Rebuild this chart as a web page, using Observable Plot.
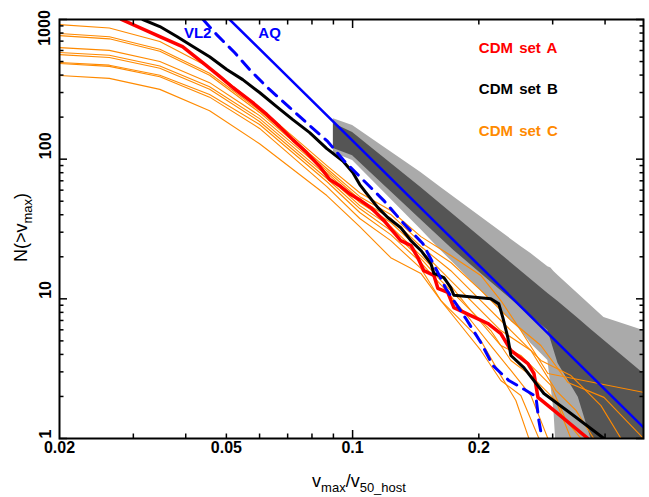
<!DOCTYPE html>
<html><head><meta charset="utf-8">
<script src="https://cdn.jsdelivr.net/npm/d3@7"></script>
<script src="https://cdn.jsdelivr.net/npm/@observablehq/plot@0.6"></script>
<style>
html,body{margin:0;padding:0;background:#fff;}
</style>
</head><body><div id="chart"></div>
<script>
// ---- tick values / labels ----
const xTickLabels = [0.02, 0.05, 0.1, 0.2];
const yTickLabels = [1, 10, 100, 1000];
const xMinorTicks = [0.03, 0.04, 0.05, 0.06, 0.07, 0.08, 0.09, 0.2, 0.3, 0.4];
const xMajorTicks = [0.1];
const yMinorTicks = [2,3,4,5,6,7,8,9,20,30,40,50,60,70,80,90,200,300,400,500,600,700,800,900];
const yMajorTicks = [1, 10, 100, 1000];

// ---- legend / labels ----
const legendNames = ["CDM set A", "CDM set B", "CDM set C"];
const legendColors = ["#ff0000", "#000000", "#ff8a00"];
const legendY = [624, 318, 159];
const legendX = 0.2;
const curveLabels = ["VL2", "AQ"];
const curveLabelX = [0.0427, 0.0634];
const curveLabelY = [793, 793];

// ---- shaded bands: v, upper N, lower N ----
const outerV  = [0.09, 0.1, 0.1455, 0.1624, 0.2519, 0.2662, 0.2922, 0.2971, 0.302, 0.309, 0.3976, 0.494];
const outerHi = [195, 174, 80.2, 62.6, 23.7, 21.1, 17.0, 16.6, 15.7, 14.7, 7.35, 5.93];
const outerLo = [111, 97.7, 31.3, 22.2, 5.93, 4.79, 3.62, 2.40, 1.59, 0.5, 0.5, 0.5];
const innerV  = [0.09, 0.1, 0.1455, 0.1744, 0.2922, 0.309, 0.3453, 0.3702, 0.494];
const innerHi = [180, 155, 62.6, 39.8, 10.9, 9.57, 7.23, 6.03, 2.92];
const innerLo = [119, 106, 36.9, 22.2, 5.93, 3.44, 1.97, 1.0, 0.5];

// ---- Aquarius power law and Via Lactea II ----
const aqLine = [[0.0509, 1000], [0.494, 1.2]];
const vl2Line = [[0.0440,1000],[0.0474,780],[0.0523,580],[0.0568,438],[0.0627,325],[0.0708,234],[0.0790,174],[0.0872,134],[0.0953,97.7],[0.1063,70.3],[0.1187,50.5],[0.1324,34.6],[0.147,24.9],[0.1579,16.5],[0.1668,11.85],[0.1862,7.23],[0.2022,4.87],[0.216,3.33],[0.2359,2.60],[0.252,2.32],[0.2736,2.0],[0.278,1.35],[0.283,1.0]];

// ---- CDM set A (red) ----
const setA = [[0.0281,1000],[0.0347,755],[0.0393,640],[0.0439,492],[0.0482,391],[0.0518,326],[0.0578,254],[0.0624,209],[0.0670,171],[0.0720,138],[0.0778,111],[0.0835,88.6],[0.0882,71.5],[0.0937,63.7],[0.0990,55.8],[0.1046,50.5],[0.1105,45.0],[0.1187,36.4],[0.1303,26.1],[0.1377,24.1],[0.1431,19.7],[0.1479,15.9],[0.1563,14.7],[0.1597,11.9],[0.1687,11.1],[0.1744,8.66],[0.1915,7.59],[0.2101,6.66],[0.2257,5.64],[0.2385,4.27],[0.2618,3.44],[0.2707,2.92],[0.2767,1.97],[0.3020,1.59],[0.3642,1]];

// ---- CDM set B (black) ----
const setB = [[0.0316,1000],[0.0347,890],[0.0381,755],[0.0416,640],[0.0456,541],[0.0501,438],[0.0547,371],[0.0600,300],[0.0659,238],[0.0720,192],[0.0790,155],[0.0868,119],[0.0948,97],[0.1001,80.2],[0.1040,65.8],[0.1075,57.8],[0.1149,45.0],[0.1213,38.2],[0.1303,32.3],[0.1377,26.1],[0.1455,22.2],[0.1537,17.9],[0.1563,15.2],[0.1651,14.2],[0.1715,12.0],[0.1744,10.6],[0.2136,10.0],[0.2232,9.2],[0.2282,7.34],[0.2345,5.29],[0.2385,3.93],[0.2561,3.22],[0.2859,2.10],[0.3316,1.51],[0.3976,1]];

// ---- CDM set C (orange, one array per halo) ----
const setC1 = [[0.02,919],[0.0263,869],[0.0347,696],[0.0456,454],[0.060,234],[0.0868,90.0],[0.104,57.5],[0.1233,42.9],[0.1455,27.9],[0.1715,20.4],[0.2022,14.7],[0.2257,9.72],[0.2519,5.93],[0.2922,2.92],[0.494,2.14]];
const setC2 = [[0.02,793],[0.0263,752],[0.0347,613],[0.0456,412],[0.060,223],[0.0868,85.7],[0.104,53.9],[0.1233,40.2],[0.1455,25.3],[0.1715,18.2],[0.2022,11.5],[0.2385,7.0],[0.2812,4.63],[0.3262,2.52],[0.3976,1.97],[0.494,1]];
const setC3 = [[0.02,767],[0.0263,727],[0.0347,593],[0.0456,399],[0.060,216],[0.0868,82.9],[0.104,51.4],[0.1233,37.6],[0.1455,23.7],[0.1715,15.9],[0.2022,9.72],[0.2385,5.93],[0.2812,3.62],[0.3316,2.82],[0.3911,1.72],[0.4365,1]];
const setC4 = [[0.02,629],[0.0263,601],[0.0347,501],[0.0456,353],[0.060,205],[0.0868,80.2],[0.104,48.9],[0.1233,35.2],[0.1455,22.2],[0.1715,13.5],[0.1968,8.95],[0.2257,5.93],[0.2662,4.27],[0.3053,2.21],[0.3409,1.59],[0.3759,1]];
const setC5 = [[0.02,580],[0.0263,554],[0.0347,465],[0.0456,330],[0.060,195],[0.0868,76.3],[0.104,46.5],[0.1233,32.9],[0.1455,20.4],[0.1715,12.4],[0.1915,8.25],[0.2257,4.63],[0.2519,3.93],[0.2971,2.40],[0.3226,1.35],[0.3504,1]];
const setC6 = [[0.02,560],[0.0263,535],[0.0347,448],[0.0456,317],[0.060,186],[0.0868,72.7],[0.104,44.3],[0.1233,30.8],[0.1455,19.4],[0.1624,13.5],[0.1812,9.72],[0.2136,5.93],[0.2385,3.62],[0.2662,2.82],[0.3053,1.87],[0.3316,1]];
const setC7 = [[0.02,492],[0.0263,471],[0.0347,399],[0.0456,290],[0.060,177],[0.0868,69.2],[0.104,41.5],[0.1233,28.8],[0.1455,18.2],[0.1669,11.5],[0.1915,7.0],[0.2136,4.63],[0.2385,3.07],[0.2662,2.03],[0.2922,1]];
const setC8 = [[0.02,484],[0.0263,462],[0.0347,389],[0.0456,278],[0.060,166],[0.0868,63.6],[0.104,37.6],[0.1233,26.1],[0.1455,16.5],[0.1624,9.72],[0.1812,6.44],[0.2022,4.27],[0.2257,2.60],[0.2519,2.03],[0.2782,1]];
const setC9 = [[0.02,397],[0.0263,379],[0.0347,316],[0.0456,222],[0.060,129],[0.0868,54.9],[0.104,32.9],[0.1233,19.7],[0.1455,15.2],[0.1624,9.72],[0.1812,7.0],[0.2022,5.03],[0.2257,2.82],[0.2451,1.87],[0.2633,1]];
const setC = [setC1, setC2, setC3, setC4, setC5, setC6, setC7, setC8, setC9];

// ---- build tables ----
const outerBand = outerV.map((v, i) => ({v, hi: outerHi[i], lo: outerLo[i]}));
const innerBand = innerV.map((v, i) => ({v, hi: innerHi[i], lo: innerLo[i]}));
const setCRows = setC.flatMap((s, id) => s.map(([v, n]) => ({v, n, id})));
const legend = legendNames.map((name, i) => ({name, color: legendColors[i], y: legendY[i]}));
const curveText = curveLabels.map((t, i) => ({t, x: curveLabelX[i], y: curveLabelY[i]}));
const px = d => d[0], py = d => d[1];
const BLUE = "#0000ff", ORANGE = "#ff8a00";
const FONT = "'Liberation Sans', Arial, Helvetica, sans-serif";
const ML = 59, MR = 6, MT = 19, MB = 59, W = 649, H = 497;
const blank = () => "";

const tickOpts = {tickFormat: blank, strokeWidth: 1.5, stroke: "#000"};

const chart = Plot.plot({
  width: W, height: H,
  marginLeft: ML, marginRight: MR, marginTop: MT, marginBottom: MB,
  x: {type: "log", domain: [0.02, 0.494], axis: null},
  y: {type: "log", domain: [1, 1000], axis: null},
  style: {fontFamily: FONT, fontSize: "16px", background: "#fff", color: "#000"},
  marks: [
    Plot.areaY(outerBand, {x: "v", y1: "lo", y2: "hi", fill: "#aaaaaa", clip: true}),
    Plot.areaY(innerBand, {x: "v", y1: "lo", y2: "hi", fill: "#555555", clip: true}),
    Plot.line(setCRows, {x: "v", y: "n", z: "id", stroke: ORANGE, strokeWidth: 1.1, clip: true}),
    Plot.line(setA, {x: px, y: py, stroke: "#ff0000", strokeWidth: 3.5, clip: true}),
    Plot.line(setB, {x: px, y: py, stroke: "#000", strokeWidth: 3, clip: true}),
    Plot.line(vl2Line, {x: px, y: py, stroke: BLUE, strokeWidth: 3, strokeDasharray: "11,8", clip: true}),
    Plot.line(aqLine, {x: px, y: py, stroke: BLUE, strokeWidth: 2.5, clip: true}),
    Plot.frame({stroke: "#000", strokeWidth: 2}),
    // inward ticks
    Plot.axisX(xMinorTicks, {anchor: "bottom", tickSize: 4.5, dy: -4.5, ...tickOpts}),
    Plot.axisX(xMajorTicks, {anchor: "bottom", tickSize: 8, dy: -8, ...tickOpts}),
    Plot.axisX(xMinorTicks, {anchor: "top", tickSize: 4.5, dy: 4.5, ...tickOpts}),
    Plot.axisX(xMajorTicks, {anchor: "top", tickSize: 8, dy: 8, ...tickOpts}),
    Plot.axisY(yMinorTicks, {anchor: "left", tickSize: 4.5, dx: 4.5, ...tickOpts}),
    Plot.axisY(yMajorTicks, {anchor: "left", tickSize: 8, dx: 8, ...tickOpts}),
    Plot.axisY(yMinorTicks, {anchor: "right", tickSize: 4.5, dx: -4.5, ...tickOpts}),
    Plot.axisY(yMajorTicks, {anchor: "right", tickSize: 8, dx: -8, ...tickOpts}),
    // tick labels
    Plot.text(xTickLabels, {x: d => d, frameAnchor: "bottom", dy: 14, text: d => String(d), fontSize: 16, fontWeight: "bold", fill: "#000"}),
    Plot.text(yTickLabels.filter(d => d < 1000), {y: d => d, frameAnchor: "left", dx: -9, rotate: -90, lineAnchor: "bottom", text: d => String(d), fontSize: 16, fontWeight: "bold", fill: "#000"}),
    // legend and curve labels
    Plot.text(legend, {x: () => legendX, y: "y", text: "name", fill: "color", textAnchor: "start", fontSize: 15, fontWeight: "bold"}),
    Plot.text(curveText, {x: "x", y: "y", text: "t", fill: BLUE, fontSize: 15, fontWeight: "bold"})
  ]
});

const svg = d3.select(chart);
svg.selectAll("text").filter(function() { return this.textContent.startsWith("CDM"); }).style("word-spacing", "2px");

// top y label: placed just below its tick (as in the original) so it stays inside the picture
const topLabel = yTickLabels.filter(d => d === 1000)[0];
svg.append("text")
  .attr("transform", `translate(${ML - 9},${MT + 9}) rotate(-90)`)
  .attr("text-anchor", "middle").attr("font-family", FONT).attr("font-size", 16)
  .attr("font-weight", "bold").attr("fill", "#000")
  .text(String(topLabel));

// axis titles with subscripts
const xt = svg.append("text")
  .attr("transform", `translate(${359},${H - 10})`)
  .attr("text-anchor", "middle").attr("font-family", FONT).attr("font-size", 18).attr("fill", "#000");
xt.append("tspan").text("v");
xt.append("tspan").attr("font-size", 13).attr("dy", 5).text("max");
xt.append("tspan").attr("dy", -5).text("/v");
xt.append("tspan").attr("font-size", 13).attr("dy", 5).text("50_host");

const yt = svg.append("text")
  .attr("transform", `translate(${27},${(MT + H - MB) / 2 - 1}) rotate(-90)`)
  .attr("text-anchor", "middle").attr("font-family", FONT).attr("font-size", 18).attr("fill", "#000");
yt.append("tspan").text("N(>v");
yt.append("tspan").attr("font-size", 13).attr("dy", 5).text("max");
yt.append("tspan").attr("dy", -5).text(")");

document.getElementById("chart").appendChild(chart);
</script>
</body></html>
